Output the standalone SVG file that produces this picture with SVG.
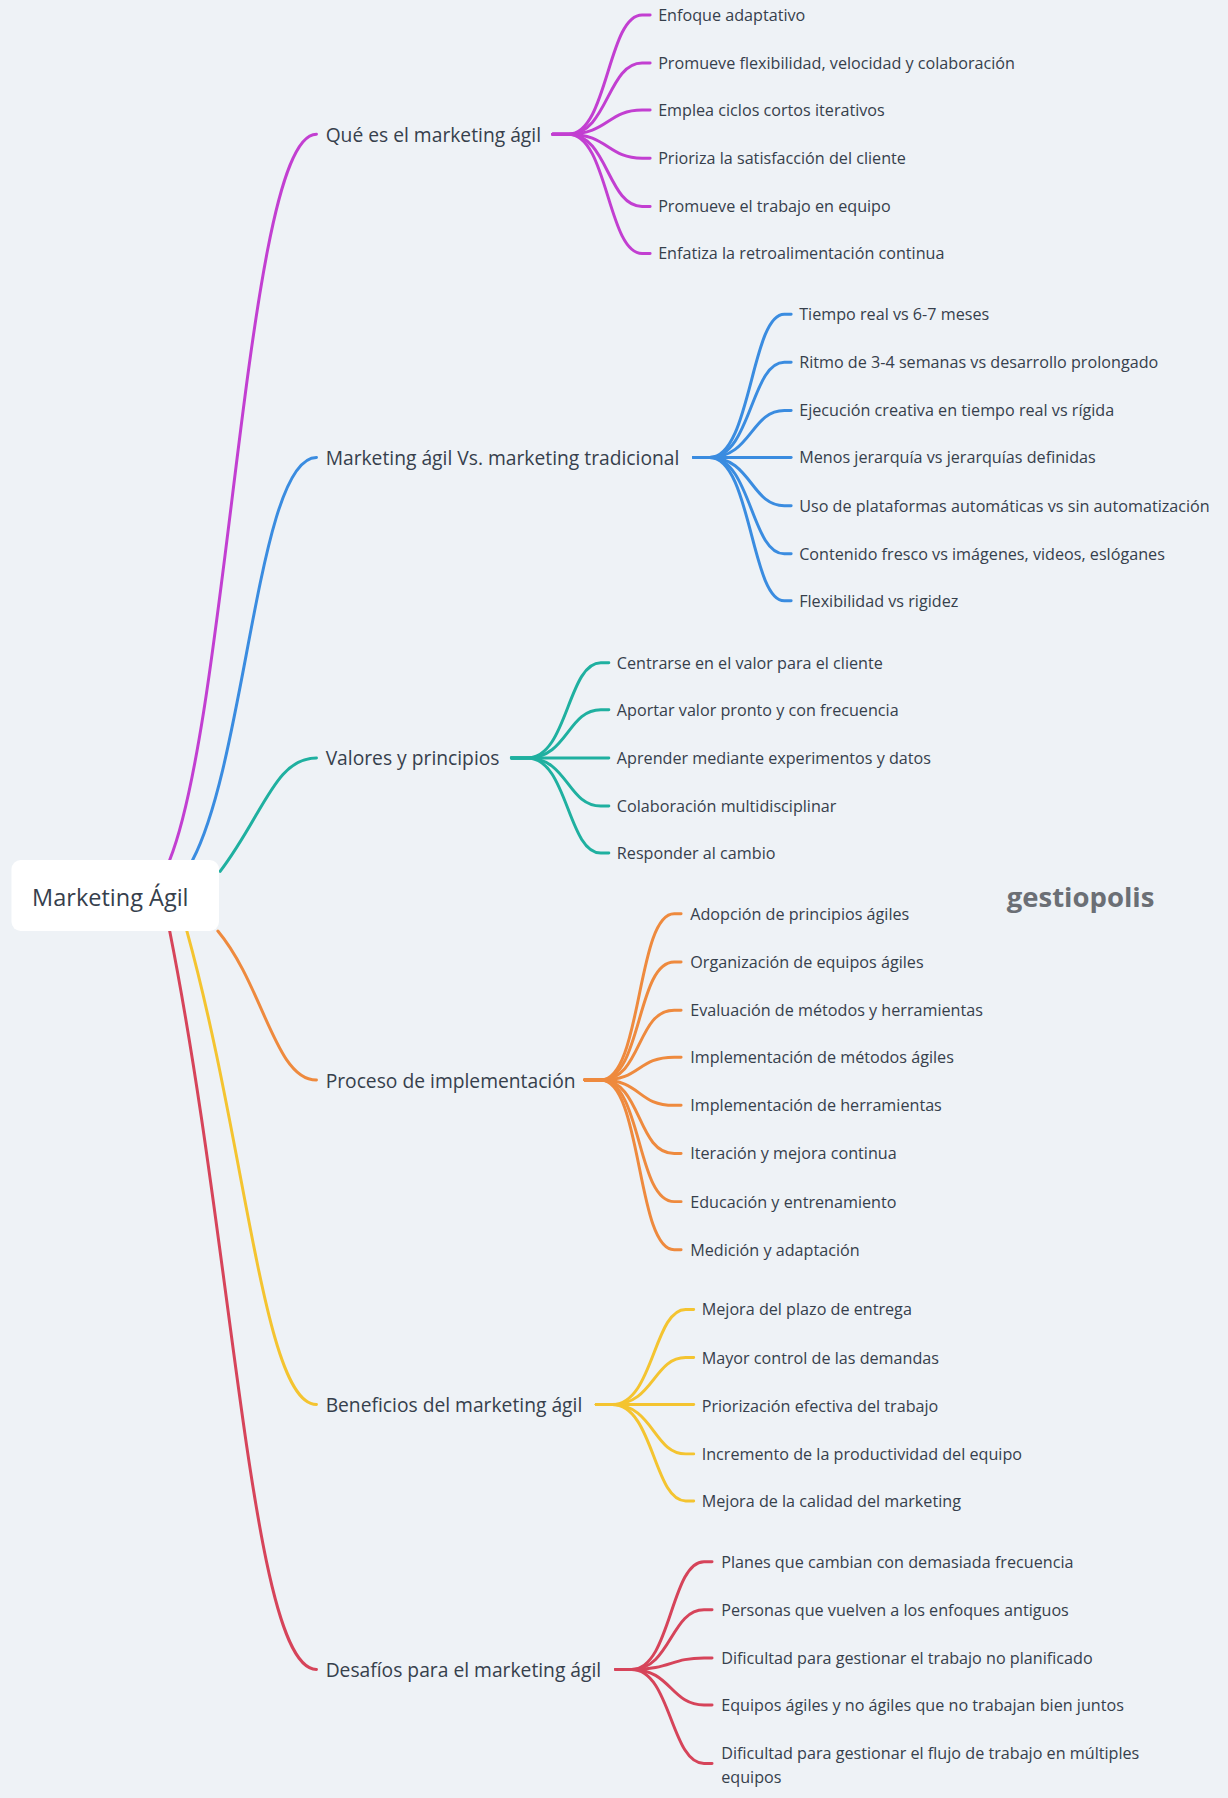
<svg xmlns="http://www.w3.org/2000/svg" width="1228" height="1798" viewBox="0 0 1228 1798">
<style>
.c{fill:none;stroke-width:2.6;stroke-linecap:round}
.l{font-family:"Open Sans","Liberation Sans",sans-serif;font-size:16.8px;fill:#36404c;dominant-baseline:central}
.s{font-family:"Open Sans","Liberation Sans",sans-serif;font-size:14.1px;fill:#36404c;dominant-baseline:central}
.m{stroke:#c23fd1}.b{stroke:#3a8ce0}.t{stroke:#1fb0a0}.o{stroke:#ee8a3e}.y{stroke:#f4c430}.r{stroke:#d6445a}
</style>
<rect width="1228" height="1798" fill="#eef2f6"/>
<g transform="scale(1.14659)">
<g id="connectors">
<path class="c m" d="M148 750 C200 620 215 117 276 117"/>
<path class="c b" d="M168 750 C215 660 225 399 276 399"/>
<path class="c t" d="M192 760 C230 710 240 661 276 661"/>
<path class="c o" d="M190 812 C230 860 240 942 276 942"/>
<path class="c y" d="M163 812 C215 1000 230 1225 276 1225"/>
<path class="c r" d="M148 812 C205 1100 220 1456 276 1456"/>
<g class="c m"><path d="M482 117H496C530 117 530 13 560 13H567"/><path d="M482 117H496C530 117 530 55 560 55H567"/><path d="M482 117H496C530 117 530 96 560 96H567"/><path d="M482 117H496C530 117 530 138 560 138H567"/><path d="M482 117H496C530 117 530 180 560 180H567"/><path d="M482 117H496C530 117 530 221 560 221H567"/></g>
<g class="c b"><path d="M605 399H619C655 399 655 274 684 274H690"/><path d="M605 399H619C655 399 655 316 684 316H690"/><path d="M605 399H619C655 399 655 358 684 358H690"/><path d="M605 399H690"/><path d="M605 399H619C655 399 655 441 684 441H690"/><path d="M605 399H619C655 399 655 483 684 483H690"/><path d="M605 399H619C655 399 655 524 684 524H690"/></g>
<g class="c t"><path d="M446 661H460C495 661 495 578 524 578H531"/><path d="M446 661H460C495 661 495 619 524 619H531"/><path d="M446 661H531"/><path d="M446 661H460C495 661 495 703 524 703H531"/><path d="M446 661H460C495 661 495 744 524 744H531"/></g>
<g class="c o"><path d="M510 942H524C560 942 555 797 588 797H594"/><path d="M510 942H524C560 942 555 839 588 839H594"/><path d="M510 942H524C560 942 555 881 588 881H594"/><path d="M510 942H524C560 942 555 922 588 922H594"/><path d="M510 942H524C560 942 555 964 588 964H594"/><path d="M510 942H524C560 942 555 1006 588 1006H594"/><path d="M510 942H524C560 942 555 1048 588 1048H594"/><path d="M510 942H524C560 942 555 1090 588 1090H594"/></g>
<g class="c y"><path d="M520 1225H534C570 1225 570 1142 598 1142H605"/><path d="M520 1225H534C570 1225 570 1184 598 1184H605"/><path d="M520 1225H605"/><path d="M520 1225H534C570 1225 570 1268 598 1268H605"/><path d="M520 1225H534C570 1225 570 1309 598 1309H605"/></g>
<g class="c r"><path d="M537 1456H551C585 1456 585 1362 614 1362H621"/><path d="M537 1456H551C585 1456 585 1404 614 1404H621"/><path d="M537 1456H551C585 1456 585 1446 614 1446H621"/><path d="M537 1456H551C585 1456 585 1487 614 1487H621"/><path d="M537 1456H551C585 1456 585 1538 614 1538H621"/></g>
</g>
<g id="root"><rect x="10" y="750" width="181" height="62" rx="8" fill="#fff"/><text x="28" y="782" class="l" style="font-size:20.5px">Marketing Ágil</text></g>
<g id="n1"><text x="284" y="117" class="l">Qué es el marketing ágil</text>
<text x="574" y="13" class="s">Enfoque adaptativo</text><text x="574" y="55" class="s">Promueve flexibilidad, velocidad y colaboración</text><text x="574" y="96" class="s">Emplea ciclos cortos iterativos</text><text x="574" y="138" class="s">Prioriza la satisfacción del cliente</text><text x="574" y="180" class="s">Promueve el trabajo en equipo</text><text x="574" y="221" class="s">Enfatiza la retroalimentación continua</text></g>
<g id="n2"><text x="284" y="399" class="l">Marketing ágil Vs. marketing tradicional</text>
<text x="697" y="274" class="s">Tiempo real vs 6-7 meses</text><text x="697" y="316" class="s">Ritmo de 3-4 semanas vs desarrollo prolongado</text><text x="697" y="358" class="s">Ejecución creativa en tiempo real vs rígida</text><text x="697" y="399" class="s">Menos jerarquía vs jerarquías definidas</text><text x="697" y="441" class="s">Uso de plataformas automáticas vs sin automatización</text><text x="697" y="483" class="s">Contenido fresco vs imágenes, videos, eslóganes</text><text x="697" y="524" class="s">Flexibilidad vs rigidez</text></g>
<g id="n3"><text x="284" y="661" class="l">Valores y principios</text>
<text x="538" y="578" class="s">Centrarse en el valor para el cliente</text><text x="538" y="619" class="s">Aportar valor pronto y con frecuencia</text><text x="538" y="661" class="s">Aprender mediante experimentos y datos</text><text x="538" y="703" class="s">Colaboración multidisciplinar</text><text x="538" y="744" class="s">Responder al cambio</text></g>
<g id="n4"><text x="284" y="942" class="l">Proceso de implementación</text>
<text x="602" y="797" class="s">Adopción de principios ágiles</text><text x="602" y="839" class="s">Organización de equipos ágiles</text><text x="602" y="881" class="s">Evaluación de métodos y herramientas</text><text x="602" y="922" class="s">Implementación de métodos ágiles</text><text x="602" y="964" class="s">Implementación de herramientas</text><text x="602" y="1006" class="s">Iteración y mejora continua</text><text x="602" y="1048" class="s">Educación y entrenamiento</text><text x="602" y="1090" class="s">Medición y adaptación</text></g>
<g id="n5"><text x="284" y="1225" class="l">Beneficios del marketing ágil</text>
<text x="612" y="1142" class="s">Mejora del plazo de entrega</text><text x="612" y="1184" class="s">Mayor control de las demandas</text><text x="612" y="1226" class="s">Priorización efectiva del trabajo</text><text x="612" y="1268" class="s">Incremento de la productividad del equipo</text><text x="612" y="1309" class="s">Mejora de la calidad del marketing</text></g>
<g id="n6"><text x="284" y="1456" class="l">Desafíos para el marketing ágil</text>
<text x="629" y="1362" class="s">Planes que cambian con demasiada frecuencia</text><text x="629" y="1404" class="s">Personas que vuelven a los enfoques antiguos</text><text x="629" y="1446" class="s">Dificultad para gestionar el trabajo no planificado</text><text x="629" y="1487" class="s">Equipos ágiles y no ágiles que no trabajan bien juntos</text><text x="629" y="1529" class="s">Dificultad para gestionar el flujo de trabajo en múltiples</text><text x="629" y="1550" class="s">equipos</text></g>
<text x="878" y="782" style="font-family:'Open Sans','Liberation Sans',sans-serif;font-size:24px;font-weight:bold;fill:#6b6f75;dominant-baseline:central">gestiopolis</text>
</g>
</svg>
